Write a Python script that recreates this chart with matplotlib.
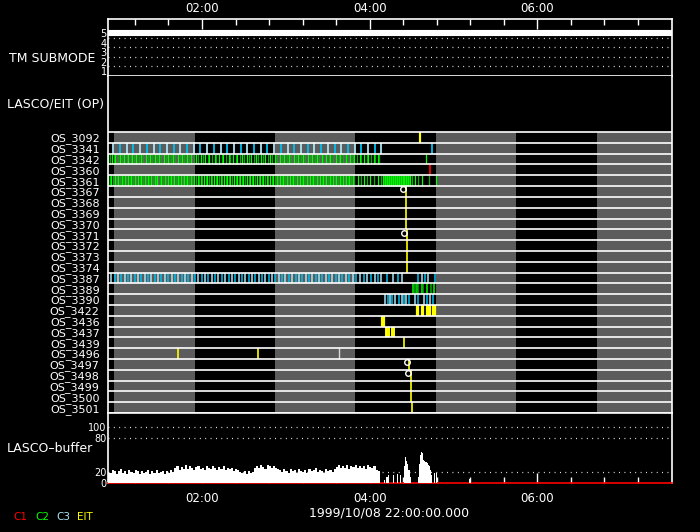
import matplotlib
matplotlib.use("Agg")
import matplotlib.pyplot as plt

# time axis in minutes after 00:00
time_range = (52.7, 456.2)
major_ticks = [120, 240, 360]
major_labels = ["02:00", "04:00", "06:00"]
minor_ticks = [72, 96, 144, 168, 192, 216, 264, 288, 312, 336, 384, 408, 432]

# night (gray) intervals of the orbit
dark_start = [57.0, 172.3, 287.5, 402.8]
dark_end = [115.0, 229.5, 344.8, 460.0]

# TM submode
tm_t = [52.7, 456.2]
tm_mode = [5, 5]

os_labels = ["OS_3092", "OS_3341", "OS_3342", "OS_3360", "OS_3361", "OS_3367",
             "OS_3368", "OS_3369", "OS_3370", "OS_3371", "OS_3372", "OS_3373",
             "OS_3374", "OS_3387", "OS_3389", "OS_3390", "OS_3422", "OS_3436",
             "OS_3437", "OS_3439", "OS_3496", "OS_3497", "OS_3498", "OS_3499",
             "OS_3500", "OS_3501"]

# event times (minutes) for each OS row
os3092 = [275.8, 276.4]
os3341 = [56.5, 61.3, 66.1, 70.9, 75.7, 80.5, 85.3, 90.1, 94.9, 99.7, 104.5,
          109.3, 114.1, 118.9, 123.7, 128.5, 133.3, 138.1, 142.9, 147.7, 152.5,
          157.3, 162.1, 166.9, 171.7, 176.5, 181.3, 186.1, 190.9, 195.7, 200.5,
          205.3, 210.1, 214.9, 219.7, 224.5, 229.3, 234.1, 238.9, 243.7, 248.5,
          284.9]
os3342 = [53, 54, 55.5, 57, 58, 60, 61, 62.5, 64, 66, 67, 69, 70, 71.5, 73, 75,
          76, 78, 80, 81, 83, 84.5, 86, 88, 89, 91, 93, 94, 96, 97.5, 99, 101,
          103, 104, 106, 107, 109, 111, 112, 114, 116, 117, 119, 120.5, 122, 124,
          125, 127, 129, 130, 132, 134, 135, 137, 139, 140, 142, 144, 145, 147,
          149, 150, 152, 154, 155, 157, 159, 160, 162, 164, 165, 167, 169, 170,
          172, 174, 176, 177, 179, 181, 182, 184, 186, 187, 189, 191, 192, 194,
          196, 197, 199, 201, 202, 204, 206, 207, 209, 211, 212, 214, 216, 218,
          219, 221, 223, 224, 226, 228, 229, 231, 233, 234, 236, 238, 239, 241,
          243, 244, 246, 247, 280.6]
os3360 = [283.5]
os3361 = [53.0, 54.2, 55.1, 56.5, 57.4, 58.8, 60.0, 61.1, 62.4, 63.2, 64.7, 65.9,
          67.0, 68.3, 69.1, 70.6, 71.8, 72.9, 74.1, 75.3, 76.2, 77.8, 78.9, 80.0,
          81.4, 82.3, 83.7, 84.9, 86.0, 87.2, 88.1, 89.6, 90.8, 91.9, 93.3, 94.2,
          95.5, 96.8, 97.9, 99.1, 100.0, 101.5, 102.7, 103.8, 105.0, 106.1, 107.4,
          108.6, 109.5, 110.9, 112.0, 113.2, 114.5, 115.6, 116.8, 117.7, 119.2,
          120.3, 121.5, 122.6, 123.9, 125.0, 126.1, 127.5, 128.4, 129.8, 131.0,
          132.1, 133.3, 134.6, 135.5, 136.9, 138.1, 139.2, 140.4, 141.7, 142.6,
          144.0, 145.2, 146.3, 147.5, 148.8, 149.7, 151.1, 152.3, 153.4, 154.6,
          155.9, 156.8, 158.2, 159.4, 160.5, 161.7, 163.0, 163.9, 165.3, 166.5,
          167.6, 168.8, 170.1, 171.0, 172.4, 173.6, 174.7, 175.9, 177.2, 178.1,
          179.5, 180.7, 181.8, 183.0, 184.3, 185.2, 186.6, 187.8, 188.9, 190.1,
          191.4, 192.3, 193.7, 194.9, 196.0, 197.2, 198.5, 199.4, 200.8, 202.0,
          203.1, 204.3, 205.6, 206.5, 207.9, 209.1, 210.2, 211.4, 212.7, 213.6,
          215.0, 216.2, 217.3, 218.5, 219.8, 220.7, 222.1, 223.3, 224.4, 225.6,
          226.9, 227.8, 229.2, 231.5, 233.6, 236.0, 238.3, 240.1, 243.5, 246.0,
          248.5, 249.6, 250.3, 251.0, 251.7, 252.4, 253.1, 253.8, 254.5, 255.2,
          255.9, 256.6, 257.3, 258.0, 258.7, 259.4, 260.1, 260.8, 261.5, 262.2,
          262.9, 263.6, 264.3, 265.0, 265.7, 266.4, 267.1, 267.8, 268.5, 269.2,
          270.6, 272.5, 274.9, 277.7, 282.8, 287.3]
os3367_3370 = [266.3]
os3371_3374 = [267.0]
os3387 = [55.0, 57.4, 59.8, 62.2, 64.6, 67.0, 69.4, 71.8, 74.2, 76.6, 79.0, 81.4,
          83.8, 86.2, 88.6, 91.0, 93.4, 95.8, 98.2, 100.6, 103.0, 105.4, 107.8,
          110.2, 112.6, 115.0, 117.4, 119.8, 122.2, 124.6, 127.0, 129.4, 131.8,
          134.2, 136.6, 139.0, 141.4, 143.8, 146.2, 148.6, 151.0, 153.4, 155.8,
          158.2, 160.6, 163.0, 165.4, 167.8, 170.2, 172.6, 175.0, 177.4, 179.8,
          182.2, 184.6, 187.0, 189.4, 191.8, 194.2, 196.6, 199.0, 201.4, 203.8,
          206.2, 208.6, 211.0, 213.4, 215.8, 218.2, 220.6, 223.0, 225.4, 227.8,
          230.2, 233.0, 236.0, 238.4, 240.8, 243.9, 246.2, 248.0, 252.7, 257.0,
          260.1, 263.0, 274.9, 277.3, 279.7, 282.0, 286.8]
os3389 = [271.3, 272.5, 273.7, 274.9, 277.3, 278.4, 280.9, 283.7, 286.1]
os3390 = [251.0, 253.4, 254.6, 255.8, 258.2, 261.3, 263.0, 264.6, 266.1, 268.4,
          272.5, 274.9, 279.0, 280.9, 283.3, 285.6]
os3422 = [273.7, 274.9, 277.3, 278.4, 280.9, 282.0, 283.3, 285.6, 286.8]
os3436 = [248.9, 250.3]
os3437 = [251.5, 252.7, 254.1, 255.8, 257.5]
os3439 = [264.8]
os3496 = [103.0, 160.1]
os3496_c3 = [218.0]
os3497 = [268.4]
os3498_3500 = [269.9]
os3501 = [270.6]

# white "c" marks
mark_rows = [5, 9, 21, 22]
mark_t = [264.1, 264.5, 266.6, 267.7]

# LASCO buffer fill (percent), regular samples every 1.5 min from 53
buf_start = 53.0
buf_step = 1.5
buf_vals = [20, 18, 24, 22, 17, 21, 25, 19, 22, 16, 23, 20, 18, 24, 21, 17, 22, 19,
            20, 23, 16, 21, 19, 24, 18, 20, 22, 17, 21, 19, 23, 20,
            27, 31, 24, 29, 26, 32, 25, 30, 27, 23, 29, 31, 26, 28, 24, 30, 27, 25,
            31, 28, 24, 29, 26, 30, 23, 28, 25, 27, 22, 26, 24,
            20, 18, 22, 17, 21, 19, 20,
            28, 31, 27, 33, 29, 26, 32, 30, 27, 31, 28, 25,
            24, 20, 26, 22, 18, 25, 21, 23, 19, 26, 22, 20, 24, 18, 25, 21, 23, 27,
            20, 24, 22, 19, 26, 21, 23, 20, 25,
            29, 32, 27, 31, 28, 33, 26, 30, 29, 32, 27, 31, 28, 30, 26, 32, 29, 27,
            31, 24, 22]
spike_t = [251.0, 252.5, 253.5, 257.0, 260.0, 262.3, 265.0, 265.8, 266.6, 267.4,
           268.2, 269.0, 269.6, 274.8, 275.6, 276.4, 277.2, 278.0, 278.8, 279.6,
           280.4, 281.2, 282.0, 282.8, 283.6, 284.4, 286.8, 287.8, 311.9]
spike_v = [6, 12, 14, 14, 16, 15, 30, 47, 40, 35, 24, 12, 6, 12, 35, 50, 56, 54,
           42, 40, 38, 36, 33, 30, 24, 14, 18, 18, 8]

RED = "#ff0000"
GREEN = ["#00ff00", "#00b400"]
CYAN = ["#a8e4f4", "#00c0f0"]
YELLOW = "#ffff00"
GRAY = "#5c5c5c"

W, H = 700, 532
L, R = 108, 671.5

plt.rcParams["font.family"] = "DejaVu Sans"
fig = plt.figure(figsize=(7, 5.32), dpi=100, facecolor="black")


def panel(top, bottom):
    ax = fig.add_axes([L / W, 1 - bottom / H, (R - L) / W, (bottom - top) / H])
    ax.set_facecolor("black")
    ax.set_xlim(*time_range)
    for s in ax.spines.values():
        s.set_color("white")
        s.set_linewidth(1.2)
    ax.tick_params(colors="white", labelsize=8.5)
    return ax


def dotted(ax, ys):
    ax.hlines(ys, time_range[0], time_range[1], colors="white", lw=0.9,
              linestyles=(0, (0.7, 3.6)), zorder=1)


# ---- TM submode panel
ax_tm = panel(19, 76)
ax_tm.set_ylim(0.46, 6.52)
dotted(ax_tm, [1.5, 2.5, 3.5, 4.5])
ax_tm.plot(tm_t, tm_mode, color="white", lw=4.4, solid_capstyle="butt", zorder=3)
ax_tm.set_yticks([1, 2, 3, 4, 5])
ax_tm.tick_params(axis="y", length=0, pad=1, labelsize=7)
ax_tm.xaxis.tick_top()
ax_tm.set_xticks(major_ticks)
ax_tm.set_xticklabels(major_labels)
ax_tm.set_xticks(minor_ticks, minor=True)
ax_tm.tick_params(axis="x", which="major", direction="in", length=7.2, width=1, pad=3)
ax_tm.tick_params(axis="x", which="minor", direction="in", length=4, width=1, colors="white")

# ---- LASCO/EIT OS panel
ax_os = panel(76, 413)
n = len(os_labels)
ax_os.set_ylim(0, n + 5.19)
ax_os.spines["top"].set_visible(False)
ax_os.spines["bottom"].set_visible(False)
ax_os.bar(dark_start, n, width=[e - s for s, e in zip(dark_start, dark_end)],
          align="edge", color=GRAY, zorder=0)


def row_ticks(row, times, colors, lw):
    if isinstance(colors, str):
        colors = [colors]
    cols = [colors[i % len(colors)] for i in range(len(times))]
    ax_os.vlines(times, n - 1 - row, n - row, colors=cols, lw=lw, zorder=2)


row_ticks(0, os3092, YELLOW, 1.5)
row_ticks(1, os3341, CYAN, 1.3)
row_ticks(2, os3342, GREEN, 0.9)
row_ticks(3, os3360, RED, 1.3)
row_ticks(4, os3361, GREEN, 0.9)
for r in range(5, 9):
    row_ticks(r, os3367_3370, YELLOW, 1.2)
for r in range(9, 13):
    row_ticks(r, os3371_3374, YELLOW, 1.2)
row_ticks(13, os3387, CYAN, 1.1)
row_ticks(14, os3389, GREEN, 1.1)
row_ticks(15, os3390, CYAN, 1.1)
row_ticks(16, os3422, YELLOW, 1.6)
row_ticks(17, os3436, YELLOW, 1.6)
row_ticks(18, os3437, YELLOW, 1.4)
row_ticks(19, os3439, YELLOW, 1.2)
row_ticks(20, os3496, YELLOW, 1.2)
row_ticks(20, os3496_c3, "#d8d8d8", 1.0)
row_ticks(21, os3497, YELLOW, 1.2)
for r in range(22, 25):
    row_ticks(r, os3498_3500, YELLOW, 1.2)
row_ticks(25, os3501, YELLOW, 1.2)

ax_os.plot(mark_t, [n - r - 0.3 for r in mark_rows], linestyle="none", marker="o",
           ms=4, mfc="none", mec="white", mew=1.0, zorder=5)
ax_os.hlines(range(n + 1), time_range[0], time_range[1], colors="white", lw=1.2, zorder=4)
ax_os.set_xticks([])
ax_os.set_yticks([n - 0.5 - i for i in range(n)])
ax_os.set_yticklabels(os_labels, fontsize=8)
ax_os.tick_params(axis="y", length=0, pad=6)

# ---- LASCO buffer panel
ax_b = panel(413, 483.3)
ax_b.set_ylim(0, 125)
dotted(ax_b, [20, 80, 100])
buf_t = [buf_start + buf_step * i for i in range(len(buf_vals))]
ax_b.bar(buf_t, buf_vals, width=buf_step, color="white", lw=0, zorder=3)
ax_b.bar(spike_t, spike_v, width=0.8, color="white", lw=0, zorder=3)
ax_b.spines["bottom"].set_color(RED)
ax_b.set_yticks([0, 20, 80, 100])
ax_b.tick_params(axis="y", length=0, pad=1, labelsize=7)
ax_b.set_xticks(major_ticks)
ax_b.set_xticklabels(major_labels)
ax_b.set_xticks(minor_ticks, minor=True)
ax_b.tick_params(axis="x", which="major", direction="in", length=7.2, width=1, pad=6)
ax_b.tick_params(axis="x", which="minor", direction="in", length=4, width=1, colors="white")

# ---- labels
def ftext(x, y, s, **kw):
    fig.text(x / W, 1 - y / H, s, color=kw.pop("color", "white"), va="center",
             fontsize=kw.pop("fontsize", 9), **kw)


ftext(95, 58, "TM SUBMODE", ha="right")
ftext(7, 104, "LASCO/EIT (OP)", ha="left")
ftext(7, 449, "LASCO\u2013buffer", ha="left")
ftext(389, 513, "1999/10/08 22:00:00.000", ha="center")
ftext(13, 517, "C1", ha="left", color=RED, fontsize=7.5)
ftext(35, 517, "C2", ha="left", color="#00ff00", fontsize=7.5)
ftext(56, 517, "C3", ha="left", color="#a8e4f4", fontsize=7.5)
ftext(77, 517, "EIT", ha="left", color=YELLOW, fontsize=7.5)

fig.savefig("out.png", dpi=100, facecolor="black")
